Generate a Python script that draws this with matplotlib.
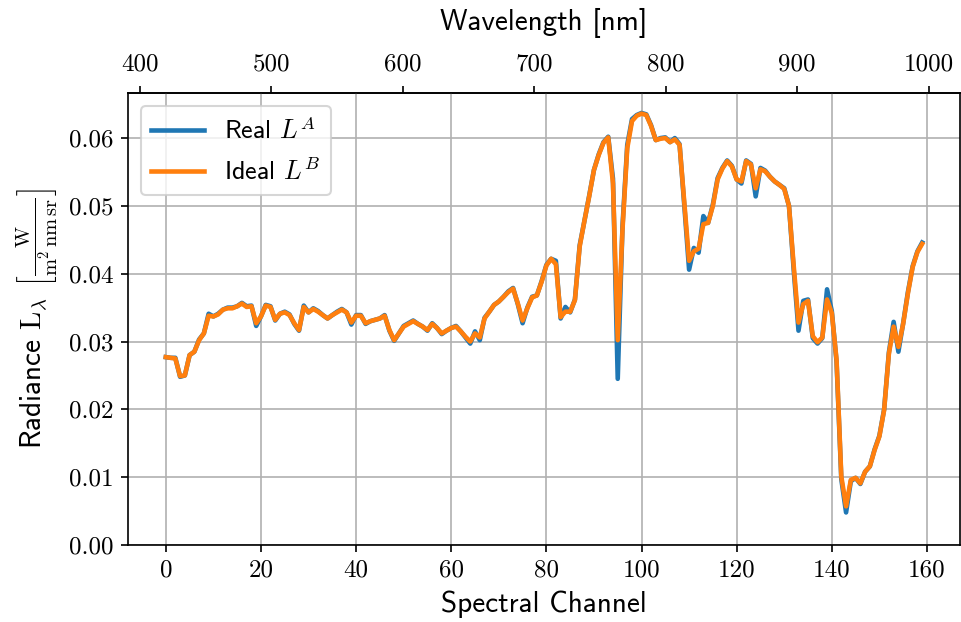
import numpy as np
import matplotlib
matplotlib.use("Agg")
import matplotlib.pyplot as plt
from matplotlib.ticker import FuncFormatter, MultipleLocator, FixedLocator

# Radiance per spectral channel (W / (m^2 nm sr))
ideal_LB = [
    0.0277, 0.0276, 0.0275, 0.0249, 0.0250, 0.0280, 0.0285, 0.0302, 0.0312, 0.0338,
    0.0337, 0.0340, 0.0347, 0.0349, 0.0349, 0.0352, 0.0356, 0.0351, 0.0352, 0.0327,
    0.0337, 0.0353, 0.0351, 0.0332, 0.0341, 0.0343, 0.0339, 0.0327, 0.0317, 0.0351,
    0.0343, 0.0348, 0.0344, 0.0339, 0.0334, 0.0339, 0.0343, 0.0347, 0.0343, 0.0328,
    0.0338, 0.0338, 0.0327, 0.0330, 0.0332, 0.0334, 0.0338, 0.0317, 0.0302, 0.0312,
    0.0322, 0.0326, 0.0330, 0.0326, 0.0322, 0.0317, 0.0326, 0.0320, 0.0312, 0.0316,
    0.0320, 0.0322, 0.0315, 0.0307, 0.0300, 0.0312, 0.0306, 0.0334, 0.0344, 0.0354,
    0.0359, 0.0366, 0.0373, 0.0378, 0.0356, 0.0331, 0.0349, 0.0365, 0.0368, 0.0388,
    0.0412, 0.0422, 0.0414, 0.0336, 0.0344, 0.0344, 0.0361, 0.0440, 0.0478, 0.0514,
    0.0553, 0.0575, 0.0593, 0.0601, 0.0533, 0.0302, 0.0465, 0.0585, 0.0625, 0.0633,
    0.0636, 0.0634, 0.0618, 0.0597, 0.0599, 0.0600, 0.0594, 0.0598, 0.0590, 0.0504,
    0.0419, 0.0433, 0.0437, 0.0473, 0.0475, 0.0500, 0.0539, 0.0555, 0.0566, 0.0558,
    0.0539, 0.0536, 0.0566, 0.0561, 0.0526, 0.0554, 0.0551, 0.0543, 0.0536, 0.0531,
    0.0525, 0.0500, 0.0411, 0.0328, 0.0355, 0.0360, 0.0308, 0.0299, 0.0306, 0.0362,
    0.0342, 0.0273, 0.0101, 0.0057, 0.0096, 0.0099, 0.0091, 0.0108, 0.0116, 0.0140,
    0.0160, 0.0199, 0.0282, 0.0322, 0.0292, 0.0326, 0.0371, 0.0410, 0.0432, 0.0444,
]

real_LA = [
    0.0277, 0.0276, 0.0276, 0.0248, 0.0250, 0.0280, 0.0285, 0.0303, 0.0312, 0.0341,
    0.0337, 0.0341, 0.0347, 0.0350, 0.0350, 0.0352, 0.0357, 0.0352, 0.0353, 0.0323,
    0.0337, 0.0354, 0.0352, 0.0331, 0.0341, 0.0344, 0.0340, 0.0326, 0.0316, 0.0353,
    0.0343, 0.0349, 0.0345, 0.0339, 0.0334, 0.0339, 0.0344, 0.0348, 0.0343, 0.0325,
    0.0339, 0.0339, 0.0326, 0.0330, 0.0332, 0.0334, 0.0339, 0.0316, 0.0301, 0.0312,
    0.0323, 0.0327, 0.0331, 0.0326, 0.0322, 0.0316, 0.0327, 0.0320, 0.0311, 0.0316,
    0.0320, 0.0323, 0.0315, 0.0306, 0.0297, 0.0315, 0.0302, 0.0335, 0.0344, 0.0354,
    0.0359, 0.0366, 0.0374, 0.0379, 0.0355, 0.0327, 0.0350, 0.0366, 0.0368, 0.0389,
    0.0413, 0.0422, 0.0419, 0.0334, 0.0351, 0.0343, 0.0362, 0.0442, 0.0478, 0.0515,
    0.0553, 0.0576, 0.0594, 0.0602, 0.0540, 0.0245, 0.0470, 0.0590, 0.0628, 0.0634,
    0.0637, 0.0635, 0.0619, 0.0597, 0.0600, 0.0601, 0.0594, 0.0600, 0.0591, 0.0500,
    0.0406, 0.0438, 0.0431, 0.0485, 0.0475, 0.0502, 0.0541, 0.0556, 0.0567, 0.0559,
    0.0539, 0.0533, 0.0567, 0.0562, 0.0514, 0.0556, 0.0552, 0.0543, 0.0536, 0.0531,
    0.0526, 0.0500, 0.0405, 0.0316, 0.0360, 0.0362, 0.0305, 0.0297, 0.0305, 0.0377,
    0.0345, 0.0270, 0.0097, 0.0048, 0.0094, 0.0099, 0.0090, 0.0108, 0.0116, 0.0141,
    0.0161, 0.0200, 0.0284, 0.0329, 0.0285, 0.0327, 0.0373, 0.0411, 0.0433, 0.0446,
]

wavelength_ticks = [400, 500, 600, 700, 800, 900, 1000]

channels = np.arange(len(ideal_LB))

# Wavelength calibration of the channels (nm)
wl_start, wl_end = 420.0, 995.0
wl_step = (wl_end - wl_start) / (len(channels) - 1)

def ch_to_wl(c):
    return wl_start + np.asarray(c) * wl_step

def wl_to_ch(w):
    return (np.asarray(w) - wl_start) / wl_step

plt.rcParams["mathtext.fontset"] = "cm"
plt.rcParams["axes.unicode_minus"] = False

sans = "cmss10"
serif = "cmr10"
tick_size = 12
label_size = 14

fig = plt.figure(figsize=(961 / 150, 622 / 150), dpi=150)
ax = fig.add_axes([128 / 961, 1 - 545 / 622, (960 - 128) / 961, (545 - 93) / 622])

ax.plot(channels, real_LA, color="#1f77b4", lw=2.2, label=r"Real $L^A$")
ax.plot(channels, ideal_LB, color="#ff7f0e", lw=2.2, label=r"Ideal $L^B$")

ax.set_ylim(bottom=0)
ax.grid(True, color="#b0b0b0", lw=0.8)
ax.xaxis.set_major_locator(MultipleLocator(20))
ax.yaxis.set_major_locator(MultipleLocator(0.01))
ax.yaxis.set_major_formatter(FuncFormatter(lambda v, p: f"{v:.2f}"))
ax.xaxis.set_major_formatter(FuncFormatter(lambda v, p: f"{v:.0f}"))
for lab in ax.get_xticklabels() + ax.get_yticklabels():
    lab.set_fontfamily(serif)
ax.tick_params(labelsize=tick_size)

ax.set_xlabel("Spectral Channel", fontfamily=sans, fontsize=label_size)
ax.set_ylabel(
    r"Radiance $\mathrm{L}_\lambda$ $\left[\frac{\mathrm{W}}{\mathrm{m}^2\,\mathrm{nm}\,\mathrm{sr}}\right]$",
    fontfamily=sans, fontsize=label_size,
)

top = ax.secondary_xaxis("top", functions=(ch_to_wl, wl_to_ch))
top.xaxis.set_major_locator(FixedLocator(wavelength_ticks))
top.xaxis.set_major_formatter(FuncFormatter(lambda v, p: f"{v:.0f}"))
top.tick_params(labelsize=tick_size, pad=5)
for lab in top.get_xticklabels():
    lab.set_fontfamily(serif)
top.set_xlabel("Wavelength [nm]", fontfamily=sans, fontsize=label_size, labelpad=11)

leg = ax.legend(loc="upper left", prop={"family": sans, "size": 12.5})

fig.savefig("out.png", dpi=150)
